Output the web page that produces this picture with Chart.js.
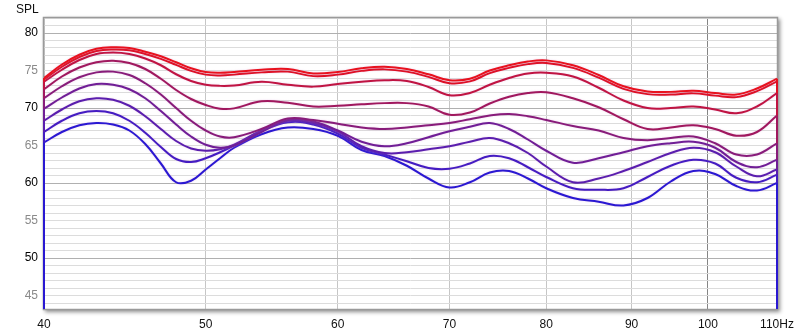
<!DOCTYPE html>
<html><head><meta charset="utf-8">
<script src="https://cdn.jsdelivr.net/npm/chart.js@4.4.1/dist/chart.umd.min.js"></script>
<style>html,body{margin:0;padding:0;background:#fff}#wrap{width:800px;height:335px;position:relative}</style>
</head><body><div id="wrap"><canvas id="c"></canvas></div>
<script>
const freqHz = [40,41,42,43,44,45,46,47,48,49,50,51,52,54,56,58,60,62,64,66,68,70,72,74,76,78,80,83,86,89,92,95,98,101,104,107,110];
const spl1 = [74.0,75.8,77.1,77.9,78.1,78.0,77.5,76.9,76.1,75.3,74.8,74.7,74.8,75.1,75.2,74.6,74.8,75.3,75.5,75.2,74.5,73.7,73.9,75.0,75.7,76.2,76.35,75.7,74.4,72.9,72.2,72.15,72.3,72.0,71.8,72.6,73.9];
const spl2 = [73.8,75.5,76.8,77.6,77.8,77.7,77.2,76.55,75.75,74.95,74.45,74.35,74.45,74.75,74.85,74.25,74.45,74.95,75.15,74.85,74.15,73.3,73.55,74.65,75.35,75.85,76.0,75.35,74.05,72.55,71.85,71.8,71.95,71.65,71.45,72.25,73.55];
const spl3 = [73.5,75.1,76.4,77.2,77.4,77.2,76.6,75.7,74.5,73.6,73.1,72.95,73.0,73.5,73.1,72.85,73.2,73.5,73.7,73.6,72.8,71.7,72.0,73.1,74.0,74.6,74.7,74.2,72.7,71.0,70.0,70.0,70.2,69.8,69.3,70.2,72.0];
const spl4 = [72.5,74.2,75.4,76.1,76.3,76.0,75.2,73.9,72.4,71.2,70.4,69.9,69.95,70.9,70.7,70.2,70.3,70.5,70.65,70.65,70.2,69.1,69.4,70.6,71.5,72.0,72.1,71.3,70.1,68.5,67.2,67.4,67.7,67.2,66.3,66.8,69.0];
const spl5 = [71.3,72.9,74.1,74.75,74.85,74.4,73.3,71.8,70.0,68.3,67.0,66.2,66.1,67.2,68.6,68.4,67.9,67.4,67.2,67.4,67.7,68.0,68.5,69.0,69.2,68.9,68.4,67.6,67.0,66.0,65.7,66.0,66.2,65.3,63.8,63.8,65.3];
const spl6 = [69.9,71.4,72.6,73.2,73.1,72.5,71.3,69.6,67.8,66.2,65.1,64.7,65.0,66.8,68.4,68.2,67.0,65.5,64.9,65.3,66.1,66.9,67.5,68.0,67.2,65.8,64.3,62.7,63.3,64.1,64.9,65.3,65.5,64.7,62.8,62.1,63.1];
const spl7 = [68.3,69.8,70.9,71.3,71.1,70.3,68.9,67.2,65.6,64.6,64.3,64.5,65.1,67.0,68.3,68.0,66.9,64.9,64.0,64.1,64.5,64.9,65.5,66.0,65.3,64.0,62.2,60.1,60.6,61.6,62.8,64.0,64.7,64.1,62.2,60.9,61.8];
const spl8 = [66.8,68.3,69.3,69.6,69.3,68.3,66.7,64.8,63.2,62.8,63.3,64.1,65.0,66.9,68.1,67.8,66.6,64.7,63.8,62.9,62.0,61.9,62.6,63.6,63.3,62.1,60.8,59.3,59.1,59.3,60.8,62.3,63.1,62.6,60.7,60.1,61.1];
const spl9 = [65.4,66.8,67.7,68.0,67.8,67.0,65.2,62.6,60.1,60.3,61.8,63.3,64.7,66.5,67.4,67.2,66.3,64.4,63.6,62.3,60.6,59.4,60.1,61.4,61.6,60.6,59.3,58.0,57.5,57.0,58.0,60.2,61.6,61.2,59.6,59.0,60.0];
const seriesValues = [spl1, spl2, spl3, spl4, spl5, spl6, spl7, spl8, spl9];
const seriesColors = ['#e8121e','#de1024','#c01442','#a0185e','#881c7a','#701e96','#5a1eae','#441cc2','#2a18d2'];
const xTickValues = [40,50,60,70,80,90,100,110];
const xTickLabels = ['40','50','60','70','80','90','100','110Hz'];
const yLabelValues = [45,50,55,60,65,70,75,80];
const yAxisTitle = 'SPL';

Chart.defaults.font.family = '"Liberation Sans", Arial, sans-serif';
Chart.defaults.font.size = 12;

const yGridValues = [];
for (let v = 44; v <= 82; v++) yGridValues.push(v);

const framePlugin = {
  id: 'frame',
  beforeDraw(chart) {
    const {ctx, chartArea: a} = chart;
    ctx.save();
    ctx.fillStyle = '#fff';
    ctx.fillRect(0, 0, chart.width, chart.height);
    ctx.shadowColor = 'rgba(0,0,0,0.45)';
    ctx.shadowBlur = 4;
    ctx.shadowOffsetX = 2;
    ctx.shadowOffsetY = 2;
    ctx.fillRect(a.left - 1, a.top - 1, a.right - a.left + 2, a.bottom - a.top + 2);
    ctx.restore();
    ctx.save();
    ctx.fillStyle = '#111';
    ctx.font = '12px "Liberation Sans", Arial, sans-serif';
    ctx.textBaseline = 'alphabetic';
    ctx.fillText(yAxisTitle, 16, 13);
    ctx.restore();
  },
  beforeDatasetsDraw(chart) {
    const {ctx, chartArea: a} = chart;
    ctx.save();
    ctx.strokeStyle = '#9a9a9a';
    ctx.lineWidth = 1.5;
    ctx.strokeRect(a.left - 0.5, a.top - 0.5, a.right - a.left + 1, a.bottom - a.top + 1);
    ctx.restore();
  },
  beforeDatasetDraw(chart, args) {
    const ctx = chart.ctx;
    ctx.save();
    ctx.shadowColor = 'rgba(200,120,200,0.35)';
    ctx.shadowBlur = 2;
  },
  afterDatasetDraw(chart) {
    chart.ctx.restore();
  },
  afterDatasetsDraw(chart) {
    const {ctx, chartArea: a} = chart;
    ctx.save();
    ctx.lineWidth = 2;
    chart.data.datasets.forEach((ds, i) => {
      const pts = chart.getDatasetMeta(i).data;
      ctx.strokeStyle = ds.borderColor;
      ctx.beginPath();
      ctx.moveTo(a.left, pts[0].y);
      ctx.lineTo(a.left, a.bottom);
      ctx.moveTo(a.right, pts[pts.length - 1].y);
      ctx.lineTo(a.right, a.bottom);
      ctx.stroke();
    });
    ctx.restore();
  }
};

new Chart(document.getElementById('c'), {
  type: 'line',
  data: {
    datasets: seriesValues.map((vals, i) => ({
      data: freqHz.map((f, j) => ({x: f, y: vals[j]})),
      borderColor: seriesColors[i],
      borderWidth: 2,
      pointRadius: 0,
      fill: false,
      tension: 0.4
    }))
  },
  options: {
    responsive: true,
    maintainAspectRatio: false,
    animation: false,
    layout: {padding: {top: 18, right: 23, left: 0, bottom: 0}},
    plugins: {legend: {display: false}, tooltip: {enabled: false}},
    scales: {
      x: {
        type: 'logarithmic',
        min: 40, max: 110,
        afterBuildTicks: s => { s.ticks = xTickValues.map(v => ({value: v})); },
        afterFit: s => { s.height = 26; s.paddingRight = 0; s.paddingLeft = 0; },
        border: {display: false},
        grid: {
          drawTicks: false,
          color: c => (c.tick && c.tick.value === 100) ? '#858585' : '#c6c6c6',
          lineWidth: 1
        },
        ticks: {
          autoSkip: false, maxRotation: 0, padding: 8, color: '#111',
          callback: (v, i) => xTickLabels[i]
        }
      },
      y: {
        min: 43.2, max: 82,
        afterBuildTicks: s => { s.ticks = yGridValues.map(v => ({value: v})); },
        afterFit: s => { s.width = 44; s.paddingTop = 0; s.paddingBottom = 0; },
        border: {display: false},
        grid: {
          drawTicks: false,
          color: c => (c.tick && c.tick.value % 10 === 0) ? '#b0b0b0' : '#dcdcdc',
          lineWidth: 1
        },
        ticks: {
          autoSkip: false, padding: 6,
          color: c => (c.tick && c.tick.value % 10 === 0) ? '#000' : '#8a8a8a',
          callback: v => yLabelValues.includes(v) ? String(v) : ''
        }
      }
    }
  },
  plugins: [framePlugin]
});
</script>
</body></html>
